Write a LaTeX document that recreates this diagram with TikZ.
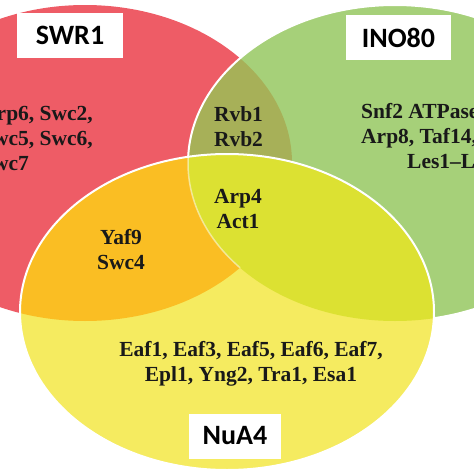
\documentclass[tikz,border=0pt]{standalone}
\usepackage{fontspec}
\setmainfont{Liberation Serif}
\newfontfamily\setnamefont{Carlito}
\usepackage{tikz}
\usetikzlibrary{positioning}
\usepackage{xcolor}

\definecolor{swrred}{RGB}{238,92,102}
\definecolor{inogreen}{RGB}{166,208,121}
\definecolor{nuayellow}{RGB}{245,235,96}
\definecolor{swrino}{RGB}{167,176,88}
\definecolor{swrnua}{RGB}{250,190,35}
\definecolor{inonua}{RGB}{220,225,50}

\def\swrshape{(85,163) ellipse [x radius=207, y radius=158]}
\def\inoshape{(395,163) ellipse [x radius=207, y radius=158]}
\def\nuashape{(227,312) ellipse [x radius=207, y radius=158]}

\begin{document}
\begin{tikzpicture}[
    x=1pt, y=-1pt,
    setname/.style={rectangle, fill=white, minimum height=45pt, inner sep=0pt,
        font=\setnamefont\bfseries\fontsize{28}{30}\selectfont},
    members/.style={inner sep=0pt, text=black!90,
        font=\bfseries\fontsize{21.5}{25}\selectfont},
    rim/.style={white, line width=2pt}
]
\useasboundingbox (0,0) rectangle (474,474);

% the three complexes
\fill[swrred] \swrshape;
\fill[inogreen] \inoshape;
\begin{scope}
    \clip \swrshape;
    \fill[swrino] \inoshape;
\end{scope}
\draw[rim] \inoshape;

\fill[nuayellow] \nuashape;
\begin{scope}
    \clip \nuashape;
    \fill[swrnua] \swrshape;
    \fill[inonua] \inoshape;
    \clip \swrshape;
    \draw[white, opacity=0.5, line width=1.5pt] \inoshape;
\end{scope}
\draw[rim] \nuashape;

% names
\node[setname, minimum width=106pt] (swr) at (70,35.5) {SWR1};
\node[setname, minimum width=105pt] (ino) at (398.5,37.5) {INO80};
\node[setname, minimum width=92pt] (nua) at (235,436) {NuA4};

% subunits
\node[members, align=left, anchor=west] (swronly) at (-19,138) {Arp6, Swc2,\\Swc5, Swc6,\\Swc7};
\node[members, align=left, anchor=west] (inoonly) at (361,125.5) {Snf2 ATPase\\Arp8, Taf14,};
\node[members, anchor=base west] (inoles) at (407,168) {Les1--Les6};
\node[members, align=center] (swrino) at (238.5,126.5) {Rvb1\\Rvb2};
\node[members, align=center] (all) at (238,209.5) {Arp4\\Act1};
\node[members, align=center] (swrnua) at (121,249.5) {Yaf9\\Swc4};
\node[members, align=center] (nuaonly) at (251,363.5) {Eaf1, Eaf3, Eaf5, Eaf6, Eaf7,\\Epl1, Yng2, Tra1, Esa1};

\end{tikzpicture}
\end{document}
